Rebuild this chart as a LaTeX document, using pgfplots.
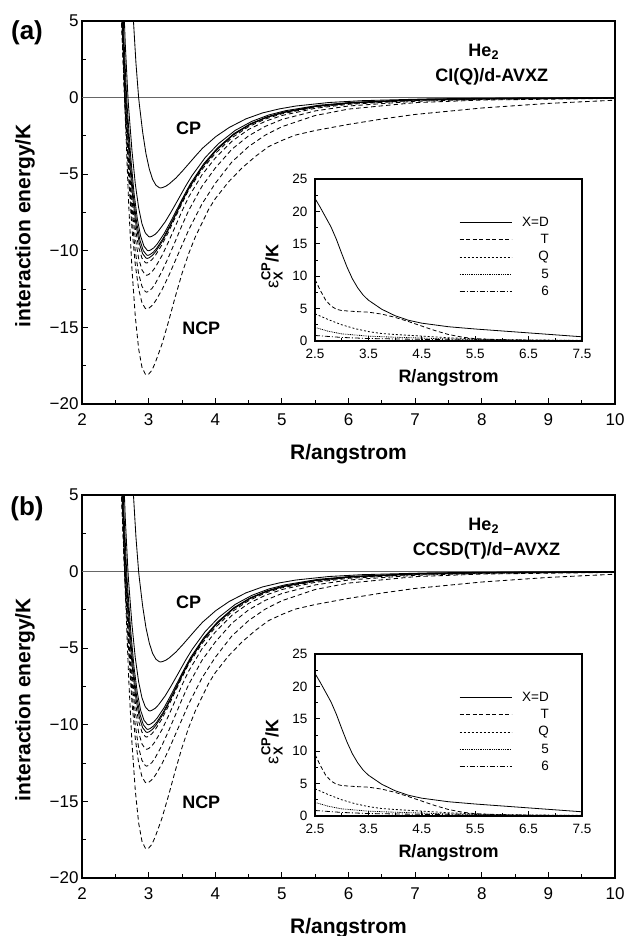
\documentclass[border=0pt]{standalone}
\usepackage{pgfplots}
\pgfplotsset{compat=1.18}
\usepackage{pgfplotstable}
\usepackage{fontspec}
\setmainfont{Liberation Sans}
\setsansfont{Liberation Sans}

% CP curves (solid)
\pgfplotstableread{
R V
2.71 11.2
2.76 5.9
2.81 2.24
2.85 0
2.86 -0.41
2.91 -2.24
2.96 -3.66
3.01 -4.66
3.06 -5.34
3.11 -5.72
3.16 -5.88
3.18 -5.9
3.21 -5.87
3.26 -5.78
3.31 -5.63
3.41 -5.25
3.51 -4.78
3.61 -4.28
3.71 -3.78
3.81 -3.30
4.01 -2.54
4.21 -1.95
4.46 -1.39
4.71 -1.00
4.96 -0.74
5.21 -0.55
5.71 -0.32
6.21 -0.20
7.21 -0.083
8.21 -0.038
10 -0.012
}\cpD
\pgfplotstableread{
R V
2.55 17.3
2.60 9.1
2.65 3.46
2.69 0
2.70 -0.64
2.75 -3.46
2.80 -5.64
2.85 -7.19
2.90 -8.24
2.95 -8.83
3.00 -9.07
3.02 -9.1
3.05 -9.05
3.10 -8.92
3.15 -8.69
3.25 -8.10
3.35 -7.37
3.45 -6.60
3.55 -5.82
3.65 -5.10
3.85 -3.91
4.05 -3.00
4.30 -2.14
4.55 -1.55
4.80 -1.14
5.05 -0.86
5.55 -0.50
6.05 -0.31
7.05 -0.13
8.05 -0.059
10 -0.018
}\cpT
\pgfplotstableread{
R V
2.53 19
2.58 10
2.63 3.8
2.67 0
2.68 -0.7
2.73 -3.8
2.78 -6.2
2.83 -7.9
2.88 -9.05
2.93 -9.7
2.98 -9.97
3.00 -10.0
3.03 -9.95
3.08 -9.8
3.13 -9.55
3.23 -8.9
3.33 -8.1
3.43 -7.25
3.53 -6.4
3.63 -5.6
3.83 -4.3
4.03 -3.3
4.28 -2.35
4.53 -1.7
4.78 -1.25
5.03 -0.94
5.53 -0.55
6.03 -0.34
7.03 -0.14
8.03 -0.065
10 -0.018
}\cpQ
\pgfplotstableread{
R V
2.52 19.6
2.57 10.3
2.62 3.91
2.66 0
2.67 -0.72
2.72 -3.91
2.77 -6.39
2.82 -8.14
2.87 -9.32
2.92 -9.99
2.97 -10.27
2.99 -10.3
3.02 -10.25
3.07 -10.09
3.12 -9.84
3.22 -9.17
3.32 -8.34
3.42 -7.47
3.52 -6.59
3.62 -5.77
3.82 -4.43
4.02 -3.40
4.27 -2.42
4.52 -1.75
4.77 -1.29
5.02 -0.97
5.52 -0.57
6.02 -0.35
7.02 -0.14
8.02 -0.067
10 -0.019
}\cpFive
\pgfplotstableread{
R V
2.51 19.95
2.56 10.5
2.61 3.99
2.65 0
2.66 -0.74
2.71 -3.99
2.76 -6.51
2.81 -8.30
2.86 -9.50
2.91 -10.19
2.96 -10.47
2.98 -10.5
3.01 -10.45
3.06 -10.29
3.11 -10.03
3.21 -9.35
3.31 -8.51
3.41 -7.61
3.51 -6.72
3.61 -5.88
3.81 -4.52
4.01 -3.47
4.26 -2.47
4.51 -1.79
4.76 -1.31
5.01 -0.99
5.51 -0.58
6.01 -0.36
7.01 -0.15
8.01 -0.068
10 -0.019
}\cpSix
% NCP curves (dashed)
\pgfplotstableread{
R V
2.50 20.5
2.55 10.8
2.60 4.1
2.64 0
2.65 -0.76
2.70 -4.10
2.75 -6.70
2.80 -8.53
2.85 -9.77
2.90 -10.48
2.95 -10.77
2.97 -10.8
3.00 -10.75
3.05 -10.58
3.10 -10.31
3.20 -9.61
3.30 -8.75
3.40 -7.83
3.50 -6.91
3.60 -6.05
3.80 -4.70
4.00 -3.65
4.25 -2.62
4.50 -1.90
4.75 -1.40
5.00 -1.06
5.50 -0.63
6.00 -0.39
7.00 -0.17
8.00 -0.08
10 -0.025
}\ncpSix
\pgfplotstableread{
R V
2.50 22
2.55 11.6
2.60 4.4
2.64 0
2.65 -0.81
2.70 -4.41
2.75 -7.19
2.80 -9.16
2.85 -10.50
2.90 -11.25
2.95 -11.57
2.97 -11.6
3.00 -11.55
3.05 -11.37
3.10 -11.08
3.20 -10.32
3.30 -9.40
3.40 -8.41
3.50 -7.42
3.60 -6.50
3.80 -5.05
4.00 -3.95
4.25 -2.85
4.50 -2.08
4.75 -1.55
5.00 -1.17
5.50 -0.70
6.00 -0.44
7.00 -0.19
8.00 -0.09
10 -0.03
}\ncpFive
\pgfplotstableread{
R V
2.50 24
2.55 12.7
2.60 4.8
2.64 0
2.65 -0.89
2.70 -4.83
2.75 -7.87
2.80 -10.03
2.85 -11.49
2.90 -12.32
2.95 -12.66
2.97 -12.7
3.00 -12.65
3.05 -12.46
3.10 -12.14
3.20 -11.35
3.30 -10.40
3.40 -9.38
3.50 -8.35
3.60 -7.38
3.80 -5.80
4.00 -4.60
4.25 -3.37
4.50 -2.50
4.75 -1.88
5.00 -1.43
5.50 -0.87
6.00 -0.55
7.00 -0.24
8.00 -0.12
10 -0.04
}\ncpQ
\pgfplotstableread{
R V
2.50 26
2.55 13.8
2.60 5.2
2.64 0
2.65 -0.97
2.70 -5.24
2.75 -8.56
2.80 -10.90
2.85 -12.49
2.90 -13.39
2.95 -13.76
2.97 -13.8
3.00 -13.76
3.05 -13.58
3.10 -13.30
3.20 -12.55
3.30 -11.65
3.40 -10.65
3.50 -9.65
3.60 -8.65
3.80 -6.95
4.00 -5.60
4.25 -4.20
4.50 -3.20
4.75 -2.45
5.00 -1.90
5.50 -1.17
6.00 -0.75
7.00 -0.33
8.00 -0.16
10 -0.05
}\ncpT
\pgfplotstableread{
R V
2.50 34
2.55 18
2.60 6.9
2.64 0
2.65 -1.3
2.70 -6.9
2.75 -11.2
2.80 -14.3
2.85 -16.4
2.90 -17.6
2.95 -18.05
2.97 -18.1
3.00 -18.05
3.05 -17.8
3.10 -17.3
3.20 -16.1
3.30 -14.6
3.40 -13.0
3.50 -11.5
3.60 -10.2
3.70 -9.1
3.80 -8.2
3.90 -7.3
4.00 -6.6
4.20 -5.5
4.40 -4.6
4.60 -3.85
4.80 -3.2
5.00 -2.8
5.20 -2.45
5.50 -2.15
6.00 -1.75
6.50 -1.40
7.00 -1.10
8.00 -0.68
9.00 -0.38
10 -0.17
}\ncpD
% inset: CP correction
\pgfplotstableread{
R E
2.5 22
2.6 20.6
2.7 19.1
2.8 17.6
2.9 15.7
3.0 13.5
3.1 11.4
3.2 9.6
3.3 8.2
3.4 7.1
3.5 6.3
3.75 4.9
4.0 3.9
4.25 3.2
4.5 2.75
5.0 2.2
5.5 1.85
6.0 1.55
6.5 1.25
7.0 0.95
7.5 0.65
}\epsD
\pgfplotstableread{
R E
2.5 9.5
2.6 7.8
2.7 6.3
2.8 5.4
2.9 4.9
3.0 4.7
3.25 4.55
3.5 4.45
3.75 4.15
4.0 3.65
4.25 3.0
4.5 2.3
4.75 1.6
5.0 1.0
5.25 0.6
5.5 0.35
6.0 0.18
6.5 0.12
7.0 0.08
7.5 0.05
}\epsT
\pgfplotstableread{
R E
2.5 4.2
2.75 3.3
3.0 2.5
3.25 1.9
3.5 1.45
3.75 1.15
4.0 1.0
4.5 0.75
5.0 0.5
5.5 0.32
6.0 0.22
6.5 0.15
7.5 0.1
}\epsQ
\pgfplotstableread{
R E
2.5 2.1
2.75 1.5
3.0 1.1
3.5 0.75
4.0 0.58
4.5 0.45
5.0 0.32
6.0 0.16
7.5 0.08
}\epsFive
\pgfplotstableread{
R E
2.5 0.85
3.0 0.55
3.5 0.38
4.5 0.25
5.5 0.15
6.5 0.08
7.5 0.05
}\epsSix

\pgfplotsset{
  main/.style={
    scale only axis, width=533pt, height=383pt,
    xmin=2, xmax=10, ymin=-20, ymax=5,
    xtick={2,...,10}, xticklabels={2,3,4,5,6,7,8,9,10},
    ytick={-20,-15,...,5}, yticklabels={−20,−15,−10,−5,0,5},
    minor x tick num=1, minor y tick num=1,
    tick pos=left, tick align=inside,
    major tick length=6pt, minor tick length=4pt,
    every tick/.style={black, line width=0.8pt},
    axis line style={line width=1.2pt},
    tick label style={font=\fontsize{17}{17}\selectfont},
    xticklabel style={yshift=-6pt},
    clip mode=individual,
    xlabel={R/angstrom}, ylabel={interaction energy/K},
    label style={font=\fontsize{21}{21}\selectfont\bfseries},
    xlabel style={at={([yshift=-40pt]axis description cs:0.5,0)}, anchor=north, inner sep=0pt},
    ylabel style={at={([xshift=-57pt]axis description cs:0,0.466)}, anchor=center},
  },
  inset/.style={
    scale only axis, width=267pt, height=162pt,
    xmin=2.5, xmax=7.5, ymin=0, ymax=25,
    xtick={2.5,3.5,4.5,5.5,6.5,7.5}, xticklabels={2.5,3.5,4.5,5.5,6.5,7.5},
    ytick={0,5,...,25}, yticklabels={0,5,10,15,20,25},
    minor x tick num=1, minor y tick num=1,
    tick pos=left, tick align=inside,
    major tick length=4.5pt, minor tick length=3pt,
    every tick/.style={black, line width=0.7pt},
    axis line style={line width=1.1pt},
    axis background/.style={fill=white},
    tick label style={font=\fontsize{13.5}{13.5}\selectfont},
    xticklabel style={yshift=-5pt}, yticklabel style={xshift=-4pt},
    xlabel={R/angstrom},
    ylabel={{\mdseries ε}\rlap{\raisebox{-0.45ex}{\fontsize{13}{13}\selectfont X}}\raisebox{0.85ex}{\fontsize{13}{13}\selectfont CP}/K},
    label style={font=\fontsize{18}{18}\selectfont\bfseries},
    xlabel style={at={([yshift=-28pt]axis description cs:0.5,0)}, anchor=north, inner sep=0pt},
    ylabel style={at={([xshift=-43pt]axis description cs:0,0.457)}, anchor=center},
    legend image code/.code={\draw[#1] (0pt,0pt) -- (52pt,0pt);},
    legend cell align=right,
    legend style={draw=none, fill=none, at={(0.88,0.773)}, anchor=north east,
      inner sep=0pt, row sep=4.5pt, font=\fontsize{13.5}{13.5}\selectfont,
      nodes={inner sep=1pt},
      /tikz/every odd column/.append style={column sep=9pt}},
  },
  cp/.style={black, solid, line width=0.85pt},
  ncp/.style={black, line width=0.85pt, dash pattern=on 4.5pt off 3pt},
  ins/.style={black, line width=0.8pt},
}

\newcommand{\mainplots}{
  \draw[black!60, line width=0.9pt] (axis cs:2,0) -- (axis cs:10,0);
  \addplot[cp] table {\cpD};
  \addplot[cp] table {\cpT};
  \addplot[cp] table {\cpQ};
  \addplot[cp] table {\cpFive};
  \addplot[cp] table {\cpSix};
  \addplot[ncp] table {\ncpSix};
  \addplot[ncp] table {\ncpFive};
  \addplot[ncp] table {\ncpQ};
  \addplot[ncp] table {\ncpT};
  \addplot[ncp] table {\ncpD};
  \node[font=\fontsize{18}{18}\selectfont\bfseries] at (axis cs:3.6,-2.02) {CP};
  \node[font=\fontsize{18}{18}\selectfont\bfseries] at (axis cs:3.79,-15.07) {NCP};
  \node[font=\fontsize{18}{18}\selectfont\bfseries, anchor=base] at (axis cs:8.03,2.65) {He\textsubscript{2}};
}
\newcommand{\insetplots}{
  \addplot[ins, solid] table {\epsD};
  \addplot[ins, dash pattern=on 4pt off 2.5pt] table {\epsT};
  \addplot[ins, dash pattern=on 2pt off 2pt] table {\epsQ};
  \addplot[ins, dash pattern=on 0.9pt off 0.9pt] table {\epsFive};
  \addplot[ins, dash pattern=on 5pt off 2pt on 1pt off 2pt] table {\epsSix};
  \legend{X=D, T, Q, 5, 6}
}

\begin{document}
\begin{tikzpicture}
\path[use as bounding box] (0pt,0pt) rectangle (627pt,936pt);

% panel (a)
\begin{axis}[main, at={(82pt,532pt)}, anchor=south west]
  \mainplots
  \node[font=\fontsize{18}{18}\selectfont\bfseries, anchor=base] at (axis cs:8.15,1.08) {CI(Q)/d-AVXZ};
\end{axis}
\begin{axis}[inset, at={(315pt,595pt)}, anchor=south west]
  \insetplots
\end{axis}
\node[font=\fontsize{26}{26}\selectfont\bfseries] at (27pt,903pt) {(a)};

% panel (b)
\begin{axis}[main, at={(82pt,58pt)}, anchor=south west]
  \mainplots
  \node[font=\fontsize{18}{18}\selectfont\bfseries, anchor=base] at (axis cs:8.07,1.08) {CCSD(T)/d−AVXZ};
\end{axis}
\begin{axis}[inset, at={(315pt,120pt)}, anchor=south west]
  \insetplots
\end{axis}
\node[font=\fontsize{26}{26}\selectfont\bfseries] at (27pt,427pt) {(b)};
\end{tikzpicture}
\end{document}
